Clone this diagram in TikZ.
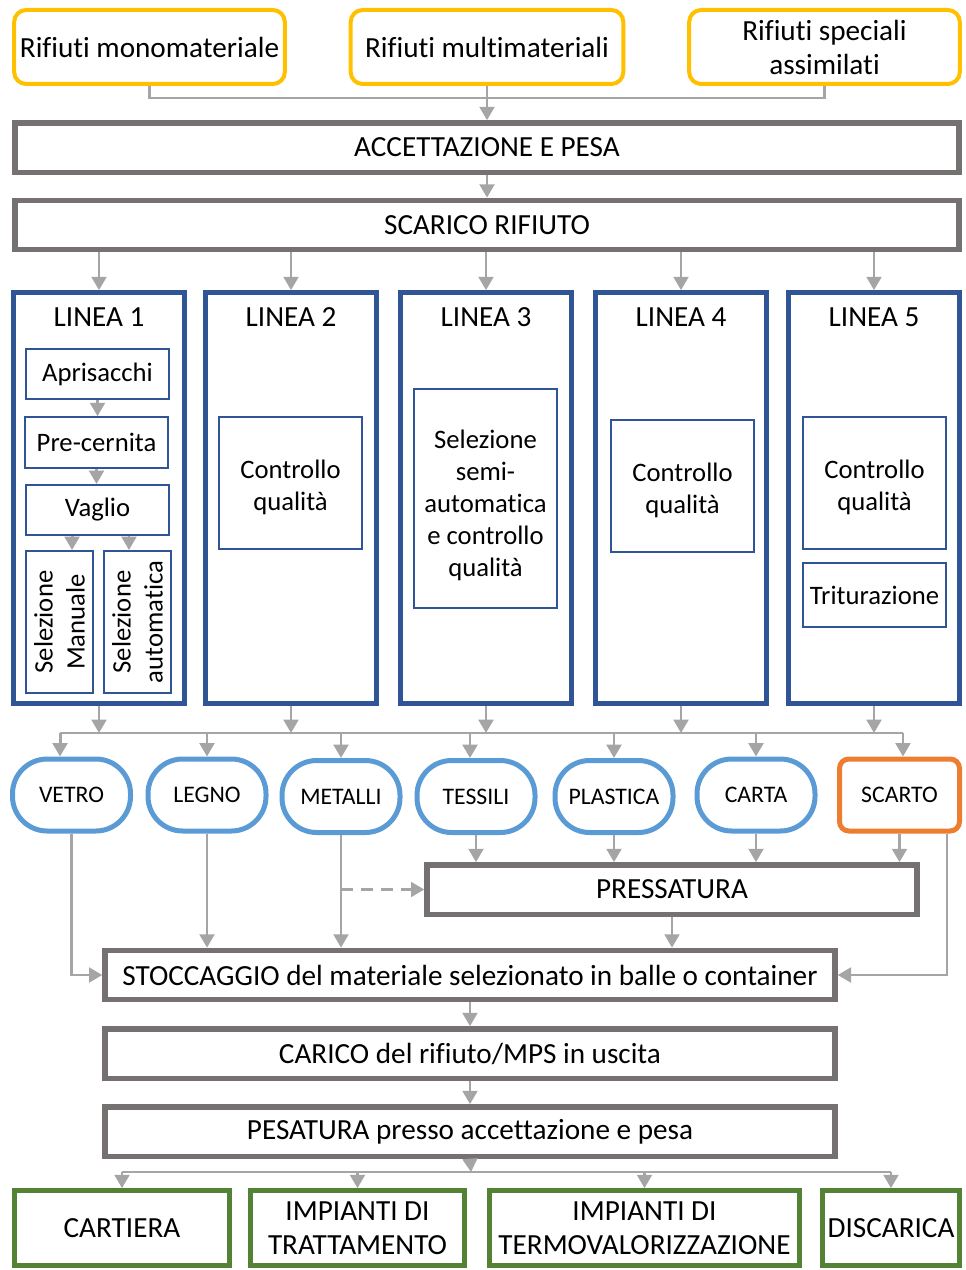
\documentclass[tikz,border=0pt]{standalone}
\usepackage{fontspec}
\setmainfont{Carlito}[Ligatures=NoCommon]
\usetikzlibrary{arrows.meta}
\definecolor{inyellow}{HTML}{FFC000}
\definecolor{stepgray}{HTML}{767171}
\definecolor{lineblue}{HTML}{2F5597}
\definecolor{matblue}{HTML}{5B9BD5}
\definecolor{wasteorange}{HTML}{ED7D31}
\definecolor{outgreen}{HTML}{548235}
\definecolor{conngray}{HTML}{A5A5A5}
\newcommand{\bigfont}{\fontsize{21.9}{25.5}\selectfont}
\newcommand{\midfont}{\fontsize{20}{24}\selectfont}
\newcommand{\matfont}{\fontsize{17.8}{21}\selectfont}
\begin{document}
\begin{tikzpicture}[x=0.75pt,y=-0.75pt,
    inbox/.style={draw=inyellow, line width=3pt, rounded corners=9pt, fill=white,
        minimum width=203pt, minimum height=55.5pt, align=center, font=\bigfont},
    stepbox/.style={draw=stepgray, line width=4pt, fill=white,
        minimum height=37pt, align=center, font=\bigfont},
    linebox/.style={draw=lineblue, line width=3.75pt, fill=white,
        minimum width=128pt, minimum height=308pt},
    phase/.style={draw=lineblue, line width=1.5pt, fill=white,
        minimum width=107pt, align=center, font=\midfont},
    phasetext/.style={align=center, font=\midfont},
    matpill/.style={draw=matblue, line width=3.75pt, rounded corners=26pt, fill=white,
        minimum width=88.5pt, minimum height=54pt, font=\matfont},
    outbox/.style={draw=outgreen, line width=3.75pt, fill=white,
        minimum height=56pt, align=center, font=\bigfont},
    conn/.style={draw=conngray, line width=2.2pt},
    arr/.style={conn, -{Triangle[length=10pt,width=11pt]}}]

    % Fix the page size
    \useasboundingbox (0,0) rectangle (965,1270);

    % Incoming waste
    \node[inbox] (mono) at (149.5,47) {Rifiuti monomateriale};
    \node[inbox, minimum width=204.5pt] (multi) at (487,47) {Rifiuti multimateriali};
    \node[inbox] (spec) at (824.5,47) {Rifiuti speciali\\assimilati};

    % Acceptance and unloading
    \node[stepbox, minimum width=708pt] (acc) at (487,147.5) {ACCETTAZIONE E PESA};
    \node[stepbox, minimum width=708pt] (scar) at (487,225) {SCARICO RIFIUTO};

    \coordinate (busA) at (487,98);
    \draw[conn] (mono.south) |- (busA) -| (spec.south);
    \draw[arr] (multi.south) -- (acc.north);
    \draw[arr] (acc.south) -- (scar.north);

    % The five lines
    \node[linebox] (L1) at (99,498) {};
    \node[linebox] (L2) at (291,498) {};
    \node[linebox] (L3) at (486,498) {};
    \node[linebox] (L4) at (681,498) {};
    \node[linebox] (L5) at (874,498) {};

    \node[font=\bigfont] (t1) at (99,317) {LINEA 1};
    \node[font=\bigfont] (t2) at (291,317) {LINEA 2};
    \node[font=\bigfont] (t3) at (486,317) {LINEA 3};
    \node[font=\bigfont] (t4) at (681,317) {LINEA 4};
    \node[font=\bigfont] (t5) at (874,317) {LINEA 5};

    \draw[arr] (scar.south -| L1.north) -- (L1.north);
    \draw[arr] (scar.south -| L2.north) -- (L2.north);
    \draw[arr] (scar.south -| L3.north) -- (L3.north);
    \draw[arr] (scar.south -| L4.north) -- (L4.north);
    \draw[arr] (scar.south -| L5.north) -- (L5.north);

    % Line 1 steps
    \node[phase, minimum height=37.5pt] (apri) at (97.5,374) {Aprisacchi};
    \node[phase, minimum height=38pt] (prec) at (96.5,442.5) {Pre-cernita};
    \node[phase, minimum height=37.5pt] (vagl) at (97.5,510) {Vaglio};
    \node[phase, minimum width=50pt, minimum height=106.5pt] (selm) at (59.5,622) {};
    \node[phase, minimum width=50pt, minimum height=106.5pt] (sela) at (137.5,622) {};
    \node[phasetext, rotate=90] (selmtxt) at (selm.center) {Selezione\\Manuale};
    \node[phasetext, rotate=90] (selatxt) at (sela.center) {Selezione\\automatica};

    \draw[arr] (apri.south) -- (apri.south |- prec.north);
    \draw[arr] (prec.south) -- (prec.south |- vagl.north);
    \draw[arr] ([xshift=9.4pt]selm.north |- vagl.south) -- ([xshift=9.4pt]selm.north);
    \draw[arr] ([xshift=-6.4pt]sela.north |- vagl.south) -- ([xshift=-6.4pt]sela.north);

    % Lines 2 to 5
    \node[phase, minimum height=99pt] (cq2) at (290.5,483) {};
    \node[phase, minimum height=164pt] (sel3) at (485.5,498.5) {};
    \node[phase, minimum height=99pt] (cq4) at (682.5,486) {};
    \node[phase, minimum height=99pt] (cq5) at (874.5,483) {};
    \node[phase, minimum height=48pt] (trit) at (874.5,595) {Triturazione};

    \node[phasetext] (cq2txt) at ([yshift=-3.5pt]cq2.center) {Controllo\\qualità};
    \node[phasetext] (sel3txt) at ([yshift=-5.5pt]sel3.center) {Selezione\\semi-\\automatica\\e controllo\\qualità};
    \node[phasetext] (cq4txt) at ([yshift=-3.5pt]cq4.center) {Controllo\\qualità};
    \node[phasetext] (cq5txt) at ([yshift=-3.5pt]cq5.center) {Controllo\\qualità};

    % Selected materials
    \node[matpill] (vetro) at (71.5,795) {VETRO};
    \node[matpill] (legno) at (207,795) {LEGNO};
    \node[matpill] (metal) at (341,796.5) {METALLI};
    \node[matpill] (tess) at (476,796.5) {TESSILI};
    \node[matpill] (plast) at (614,796.5) {PLASTICA};
    \node[matpill] (carta) at (756,795) {CARTA};
    \node[matpill, draw=wasteorange, rounded corners=7pt, minimum width=90pt] (scarto) at (899.5,795) {SCARTO};

    \coordinate (busC) at (487,733);
    \draw[arr] (L1.south) -- (L1.south |- busC);
    \draw[arr] (L2.south) -- (L2.south |- busC);
    \draw[arr] (L3.south) -- (L3.south |- busC);
    \draw[arr] (L4.south) -- (L4.south |- busC);
    \draw[arr] (L5.south) -- (L5.south |- busC);
    \draw[conn] ([xshift=-8.6pt]vetro.north |- busC) -- ([xshift=2.6pt]scarto.north |- busC);
    \draw[arr] ([xshift=-8.6pt]vetro.north |- busC) -- ([xshift=-8.6pt]vetro.north);
    \draw[arr] (legno.north |- busC) -- (legno.north);
    \draw[arr] (metal.north |- busC) -- (metal.north);
    \draw[arr] ([xshift=-4.5pt]tess.north |- busC) -- ([xshift=-4.5pt]tess.north);
    \draw[arr] (plast.north |- busC) -- (plast.north);
    \draw[arr] (carta.north |- busC) -- (carta.north);
    \draw[arr] ([xshift=2.6pt]scarto.north |- busC) -- ([xshift=2.6pt]scarto.north);

    % Pressing and storage
    \node[stepbox, minimum width=367.5pt] (press) at (672,889.5) {PRESSATURA};
    \node[stepbox, minimum width=547.5pt] (stocc) at (470,975) {STOCCAGGIO del materiale selezionato in balle o container};

    \draw[arr] (tess.south) -- (tess.south |- press.north);
    \draw[arr] (plast.south) -- (plast.south |- press.north);
    \draw[arr] (carta.south) -- (carta.south |- press.north);
    \draw[arr] (scarto.south) -- (scarto.south |- press.north);
    \draw[arr, dashed, dash pattern=on 9pt off 6pt] (metal.south |- press.west) -- (press.west);
    \draw[arr] (press.south) -- (press.south |- stocc.north);

    \draw[arr] (vetro.south) |- (stocc.west);
    \draw[arr] (legno.south) -- (legno.south |- stocc.north);
    \draw[arr] (metal.south) -- (metal.south |- stocc.north);
    \draw[arr] ([xshift=35.6pt]scarto.south) |- (stocc.east);

    % Loading and weighing
    \node[stepbox, minimum width=547.5pt] (car) at (470,1053.5) {CARICO del rifiuto/MPS in uscita};
    \node[stepbox, minimum width=547.5pt] (pes) at (470,1131.5) {PESATURA presso accettazione e pesa};
    \draw[arr] (stocc.south) -- (car.north);
    \draw[arr] (car.south) -- (pes.north);

    % Destinations
    \node[outbox, minimum width=161pt] (cart) at (122,1228) {CARTIERA};
    \node[outbox, minimum width=160.5pt] (tratt) at (357.5,1228) {IMPIANTI DI\\TRATTAMENTO};
    \node[outbox, minimum width=232.5pt] (termo) at (644.5,1228) {IMPIANTI DI\\TERMOVALORIZZAZIONE};
    \node[outbox, minimum width=102.5pt] (disc) at (891,1228) {DISCARICA};

    \coordinate (busD) at (471,1172);
    \draw[arr] (pes.south) -- (busD);
    \draw[conn] (cart.north |- busD) -- (disc.north |- busD);
    \draw[arr] (cart.north |- busD) -- (cart.north);
    \draw[arr] (tratt.north |- busD) -- (tratt.north);
    \draw[arr] (termo.north |- busD) -- (termo.north);
    \draw[arr] (disc.north |- busD) -- (disc.north);
\end{tikzpicture}
\end{document}
